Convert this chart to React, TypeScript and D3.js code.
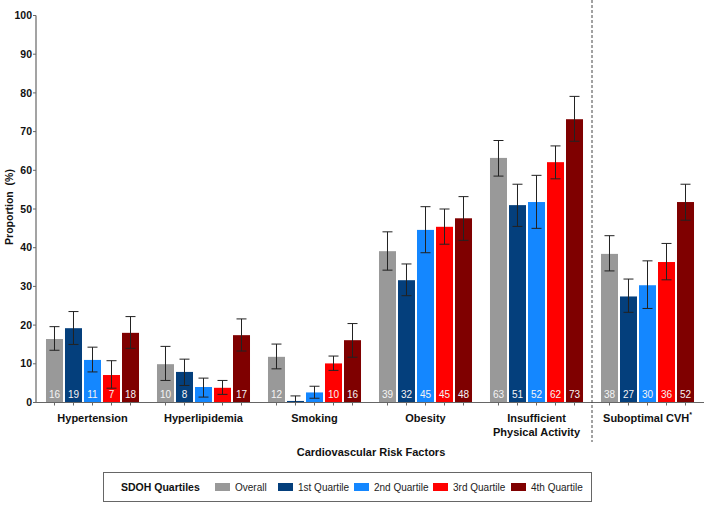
import React from 'react';
import * as d3 from 'd3';

const categories = ['Hypertension', 'Hyperlipidemia', 'Smoking', 'Obesity', 'Insufficient Physical Activity', 'Suboptimal CVH'];
const series = ['Overall', '1st Quartile', '2nd Quartile', '3rd Quartile', '4th Quartile'];
const colors = ['#999999', '#043f7c', '#1487ff', '#ff0000', '#7f0000'];

// proportion (%) per category, one row per series
const values = [
  [16.4, 9.9, 11.8, 39.1, 63.2, 38.4],
  [19.2, 7.9, 0.4, 31.6, 51.0, 27.4],
  [11.0, 4.0, 2.6, 44.6, 51.8, 30.3],
  [7.1, 3.8, 10.1, 45.4, 62.1, 36.3],
  [18.0, 17.4, 16.1, 47.6, 73.2, 51.8],
];
const lower = [
  [13.5, 5.7, 8.7, 34.2, 58.5, 34.0],
  [15.0, 4.4, 0, 27.6, 45.5, 23.3],
  [7.9, 1.4, 1.1, 38.7, 45.0, 24.3],
  [3.7, 2.1, 8.3, 40.9, 57.8, 31.7],
  [14.0, 13.3, 11.7, 41.9, 67.5, 47.1],
];
const upper = [
  [19.6, 14.5, 15.1, 44.1, 67.7, 43.1],
  [23.5, 11.2, 1.7, 35.8, 56.4, 31.9],
  [14.3, 6.3, 4.2, 50.6, 58.7, 36.6],
  [10.8, 5.7, 12.0, 50.0, 66.3, 41.1],
  [22.2, 21.6, 20.4, 53.2, 79.1, 56.4],
];
// printed labels (blank when the bar is too short)
const labels = [
  ['16', '10', '12', '39', '63', '38'],
  ['19', '8', '', '32', '51', '27'],
  ['11', '', '', '45', '52', '30'],
  ['7', '', '10', '45', '62', '36'],
  ['18', '17', '16', '48', '73', '52'],
];
const yTicks = [0, 10, 20, 30, 40, 50, 60, 70, 80, 90, 100];

const W = 709, H = 505;
const font = 'Arial, "Liberation Sans", sans-serif';

export default function App() {
  const x0 = d3.scaleBand().domain(categories).range([37, 703]).paddingInner(0.162).paddingOuter(0.081);
  const x1 = d3.scaleBand().domain(series).range([0, x0.bandwidth()]).paddingInner(0.105).paddingOuter(0);
  const y = d3.scaleLinear().domain([0, 100]).range([402.5, 15.5]);
  const axisColor = '#666';
  const bw = x1.bandwidth();

  const legendItems = [215, 278, 354, 433, 511];

  return (
    <div style={{ position: 'absolute', left: 0, top: 0 }}>
      <svg width={W} height={H} style={{ display: 'block', fontFamily: font }}>
        <rect width={W} height={H} fill="#fff" />
        {/* bars */}
        {series.map((s, si) => (
          <g key={s}>
            {categories.map((c, ci) => {
              const bx = (x0(c) as number) + (x1(s) as number);
              const v = values[si][ci];
              return (
                <g key={c}>
                  <rect x={bx} y={y(v)} width={bw} height={y(0) - y(v)} fill={colors[si]} />
                  {labels[si][ci] && (
                    <text x={bx + bw / 2} y={398} textAnchor="middle" fontSize={10} fill="#f4f4f4">{labels[si][ci]}</text>
                  )}
                </g>
              );
            })}
          </g>
        ))}
        {/* error bars */}
        {series.map((s, si) => categories.map((c, ci) => {
          const cx = (x0(c) as number) + (x1(s) as number) + bw / 2;
          const lo = y(lower[si][ci]), hi = y(upper[si][ci]);
          return (
            <g key={s + c} stroke="#222" strokeWidth={1}>
              <line x1={cx} x2={cx} y1={lo} y2={hi} />
              <line x1={cx - 5} x2={cx + 5} y1={hi} y2={hi} />
              <line x1={cx - 5} x2={cx + 5} y1={lo} y2={lo} />
            </g>
          );
        }))}
        {/* y axis */}
        <line x1={36} x2={36} y1={y(100)} y2={y(0)} stroke={axisColor} strokeWidth={1.2} />
        {yTicks.map(t => (
          <g key={t}>
            <line x1={33} x2={36} y1={y(t)} y2={y(t)} stroke={axisColor} />
            <text x={32} y={y(t)} dy="0.35em" textAnchor="end" fontSize={10.5} fontWeight="bold" fill="#111">{t}</text>
          </g>
        ))}
        <text transform="translate(13,207) rotate(-90)" textAnchor="middle" fontSize={10.5} fontWeight="bold" fill="#111">{'Proportion\u00a0 (%)'}</text>
        {/* x axis */}
        <line x1={36} x2={704} y1={y(0)} y2={y(0)} stroke={axisColor} strokeWidth={1.2} />
        {categories.map(c => series.map(s => {
          const cx = (x0(c) as number) + (x1(s) as number) + bw / 2;
          return <line key={c + s} x1={cx} x2={cx} y1={y(0)} y2={y(0) + 3} stroke={axisColor} />;
        }))}
        {categories.map(c => {
          const cx = (x0(c) as number) + x0.bandwidth() / 2;
          if (c === 'Insufficient Physical Activity') {
            return (
              <text key={c} x={cx} textAnchor="middle" fontSize={11} fontWeight="bold" fill="#111">
                <tspan x={cx} y={422}>Insufficient</tspan>
                <tspan x={cx} y={436}>Physical Activity</tspan>
              </text>
            );
          }
          if (c === 'Suboptimal CVH') {
            return (
              <text key={c} x={cx} y={422} textAnchor="middle" fontSize={11} fontWeight="bold" fill="#111">
                Suboptimal CVH<tspan fontSize={7} dy={-5}>*</tspan>
              </text>
            );
          }
          return <text key={c} x={cx} y={422} textAnchor="middle" fontSize={11} fontWeight="bold" fill="#111">{c}</text>;
        })}
        <text x={371} y={456} textAnchor="middle" fontSize={11} fontWeight="bold" fill="#111">Cardiovascular Risk Factors</text>
        {/* divider */}
        <line x1={592} x2={592} y1={0} y2={442} stroke="#444" strokeDasharray="3,2" />
        {/* legend */}
        <rect x={103.5} y={472.5} width={488} height={29} fill="#fff" stroke="#666" />
        <text x={121} y={487} dy="0.35em" fontSize={10.5} fontWeight="bold" fill="#111">SDOH Quartiles</text>
        {series.map((s, si) => (
          <g key={s}>
            <rect x={legendItems[si]} y={483} width={15} height={8} fill={colors[si]} />
            <text x={legendItems[si] + 20} y={487} dy="0.35em" fontSize={10} fill="#222">{s}</text>
          </g>
        ))}
      </svg>
    </div>
  );
}
